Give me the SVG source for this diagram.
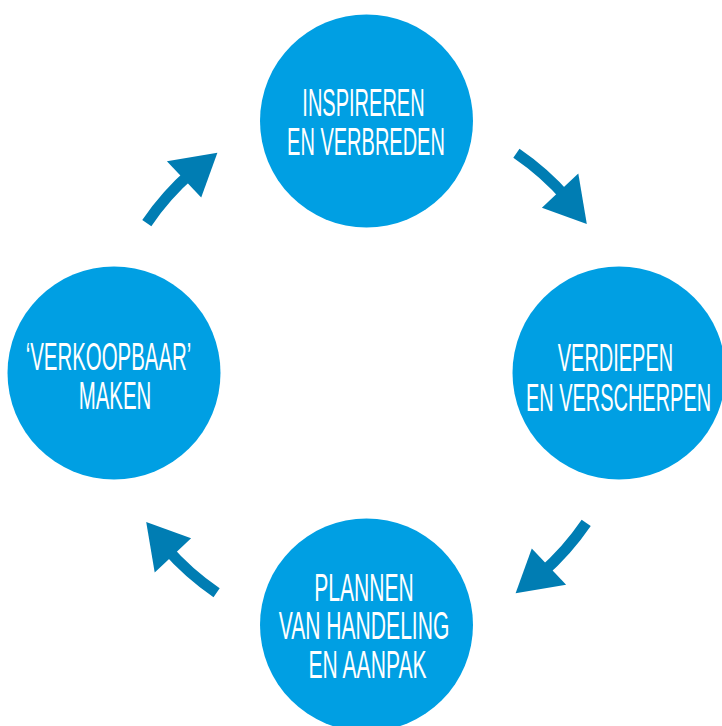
<svg xmlns="http://www.w3.org/2000/svg" width="722" height="726" viewBox="0 0 722 726">
  <style>
    .node { fill: #009FE3; }
    .label { font-family: "Liberation Sans", Arial, sans-serif; font-size: 39px; fill: #FFFFFF; text-anchor: middle; }
    .shaft { fill: none; stroke: #007DB3; stroke-width: 11; stroke-linecap: butt; }
    .head { fill: #007DB3; }
  </style>
  <defs>
    <!-- one curved arrow on the cycle ring (radius 266 around 366.5,373) -->
    <g id="cycle-arrow">
      <path class="shaft" d="M 516.4 153.3 A 266 266 0 0 1 567.3 198.5"/>
      <polygon class="head" points="541.9,207.7 578.3,173.4 586.8,223.9"/>
    </g>
  </defs>

  <rect width="722" height="726" fill="#FFFFFF"/>

  <g id="connectors">
    <use href="#cycle-arrow"/>
    <use href="#cycle-arrow" transform="rotate(90 366.5 373)"/>
    <use href="#cycle-arrow" transform="rotate(180 366.5 373)"/>
    <use href="#cycle-arrow" transform="rotate(270 366.5 373)"/>
  </g>

  <!-- labels are set in a horizontally condensed Liberation Sans -->
  <g id="node-inspireren">
    <circle class="node" cx="366.5" cy="121" r="106.5"/>
    <text class="label" transform="translate(366 0) scale(0.513 1)"><tspan x="-4.9" y="116">INSPIREREN</tspan><tspan x="0" y="155">EN VERBREDEN</tspan></text>
  </g>

  <g id="node-verdiepen">
    <circle class="node" cx="619" cy="373" r="106.5"/>
    <text class="label" transform="translate(618.5 0) scale(0.512 1)"><tspan x="-5.9" y="371">VERDIEPEN</tspan><tspan x="0" y="411">EN VERSCHERPEN</tspan></text>
  </g>

  <g id="node-plannen">
    <circle class="node" cx="366.5" cy="625" r="106.5"/>
    <text class="label" transform="translate(364 0) scale(0.541 1)"><tspan x="0" y="601">PLANNEN</tspan><tspan x="0" y="639">VAN HANDELING</tspan><tspan x="6.5" y="678">EN AANPAK</tspan></text>
  </g>

  <g id="node-verkoopbaar">
    <circle class="node" cx="114" cy="373" r="106.5"/>
    <text class="label" transform="translate(115 0) scale(0.524 1)"><tspan x="-12.4" y="370">‘VERKOOPBAAR’</tspan><tspan x="0" y="409">MAKEN</tspan></text>
  </g>
</svg>
